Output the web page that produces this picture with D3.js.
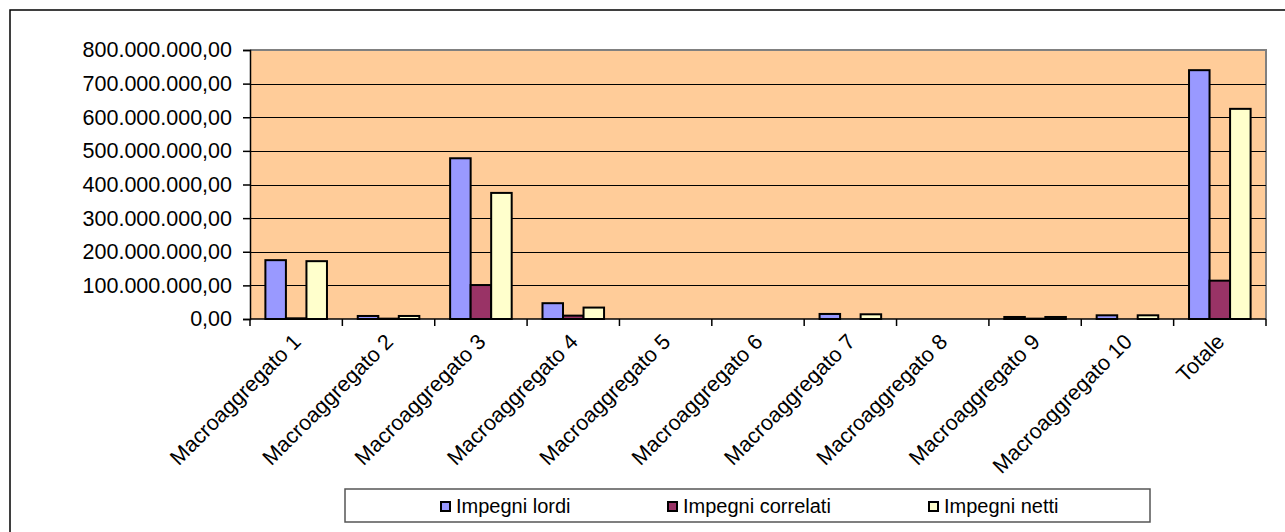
<!DOCTYPE html>
<html>
<head>
<meta charset="utf-8">
<script src="https://cdn.jsdelivr.net/npm/d3@7"></script>
<style>
  html, body { margin: 0; padding: 0; background: #fff; }
  svg { display: block; font-family: "Liberation Sans", Arial, sans-serif; }
</style>
</head>
<body>
<svg id="chart" width="1285" height="532"></svg>
<script>
const categories = ["Macroaggregato 1", "Macroaggregato 2", "Macroaggregato 3", "Macroaggregato 4",
  "Macroaggregato 5", "Macroaggregato 6", "Macroaggregato 7", "Macroaggregato 8",
  "Macroaggregato 9", "Macroaggregato 10", "Totale"];
const seriesNames = ["Impegni lordi", "Impegni correlati", "Impegni netti"];
const impegniLordi     = [175000000, 9000000, 478000000, 47000000, 0, 0, 15000000, 0, 6000000, 11000000, 740000000];
const impegniCorrelati = [2000000, 1000000, 101000000, 10000000, 0, 0, 0, 0, 1000000, 0, 114000000];
const impegniNetti     = [172000000, 9000000, 375000000, 34000000, 0, 0, 14000000, 0, 6000000, 11000000, 625000000];
const seriesColors = ["#9999FF", "#993366", "#FFFFCC"];
const yTicks = [0, 100000000, 200000000, 300000000, 400000000, 500000000, 600000000, 700000000, 800000000];

const series = [impegniLordi, impegniCorrelati, impegniNetti];
const svg = d3.select("#chart");

// outer chart border
svg.append("rect").attr("x", 10).attr("y", 10).attr("width", 1300).attr("height", 560)
  .attr("fill", "#fff").attr("stroke", "#000").attr("stroke-width", 1.5);

const plot = { left: 250, top: 50, right: 1266, bottom: 319 };

const x = d3.scaleBand().domain(categories).range([plot.left, plot.right]).paddingInner(0).paddingOuter(0);
const y = d3.scaleLinear().domain([0, 800000000]).range([plot.bottom, plot.top]);
const barW = x.bandwidth() / 4.5;
const xSub = d3.scaleBand().domain(seriesNames).range([barW * 0.75, barW * 3.75]);

// plot area background
svg.append("rect").attr("x", plot.left).attr("y", plot.top)
  .attr("width", plot.right - plot.left).attr("height", plot.bottom - plot.top)
  .attr("fill", "#FFCC99");
// plot area border (grey top/right)
svg.append("path")
  .attr("d", `M${plot.left},${plot.top}H${plot.right}V${plot.bottom}`)
  .attr("fill", "none").attr("stroke", "#808080").attr("stroke-width", 2);

// gridlines
svg.append("g").selectAll("line").data(yTicks.filter(d => d > 0 && d < 800000000)).join("line")
  .attr("x1", plot.left).attr("x2", plot.right)
  .attr("y1", d => Math.round(y(d)) + 0.5).attr("y2", d => Math.round(y(d)) + 0.5)
  .attr("stroke", "#000").attr("stroke-width", 1);

// bars
const fmt = d3.formatLocale({ decimal: ",", thousands: ".", grouping: [3], currency: ["", "€"] }).format(",.2f");
const groups = svg.append("g").selectAll("g").data(categories).join("g")
  .attr("transform", d => `translate(${x(d)},0)`);
groups.selectAll("rect").data((d, i) => seriesNames.map((s, k) => ({ s, v: series[k][i], c: seriesColors[k] })).filter(e => e.v > 0))
  .join("rect")
  .attr("x", e => xSub(e.s))
  .attr("width", xSub.bandwidth())
  .attr("y", e => y(e.v))
  .attr("height", e => plot.bottom - y(e.v))
  .attr("fill", e => e.c)
  .attr("stroke", "#000").attr("stroke-width", 2);

// y axis
const yAxis = d3.axisLeft(y).tickValues(yTicks).tickSize(7).tickPadding(11).tickFormat(fmt);
const yg = svg.append("g").attr("transform", `translate(${plot.left},0)`).call(yAxis);
yg.select(".domain").attr("stroke", "#000").attr("stroke-width", 1.5);
yg.selectAll(".tick line").attr("stroke", "#000").attr("stroke-width", 1.5);
yg.selectAll(".tick text").attr("font-size", 21.5).attr("fill", "#000")
  .attr("font-family", "'Liberation Sans', Arial, sans-serif");

// x axis line and ticks at category boundaries
const xg = svg.append("g");
xg.append("line").attr("x1", plot.left).attr("x2", plot.right)
  .attr("y1", plot.bottom).attr("y2", plot.bottom).attr("stroke", "#000").attr("stroke-width", 1.5);
const bounds = categories.map(c => x(c)).concat([plot.right]);
xg.selectAll("line.tk").data(bounds).join("line").attr("class", "tk")
  .attr("x1", d => d).attr("x2", d => d).attr("y1", plot.bottom).attr("y2", plot.bottom + 7)
  .attr("stroke", "#000").attr("stroke-width", 1.5);
xg.selectAll("text").data(categories).join("text")
  .attr("transform", d => `translate(${x(d) + x.bandwidth() / 2 + 6},${plot.bottom + 24}) rotate(-45)`)
  .attr("text-anchor", "end")
  .attr("font-size", 21.5).attr("fill", "#000")
  .text(d => d);

// legend
const lg = svg.append("g");
lg.append("rect").attr("x", 345).attr("y", 489).attr("width", 805).attr("height", 33)
  .attr("fill", "#fff").attr("stroke", "#555").attr("stroke-width", 1.5);
const legendX = [441, 668, 929];
const items = lg.selectAll("g.it").data(seriesNames).join("g").attr("class", "it")
  .attr("transform", (d, i) => `translate(${legendX[i]},0)`);
items.append("rect").attr("x", 0).attr("y", 502).attr("width", 9).attr("height", 9)
  .attr("fill", (d, i) => seriesColors[i]).attr("stroke", "#000").attr("stroke-width", 2);
items.append("text").attr("x", 15).attr("y", 513).attr("font-size", 20).attr("fill", "#000")
  .text(d => d);
</script>
</body>
</html>
